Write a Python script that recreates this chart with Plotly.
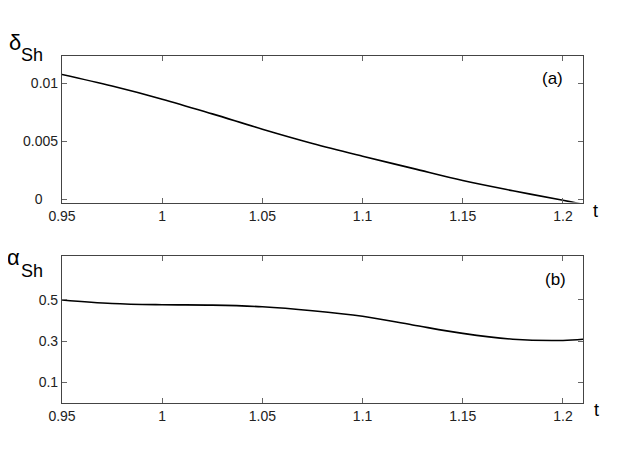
import plotly.graph_objects as go
from plotly.subplots import make_subplots

# painel (a): delta_Sh(t)
t_a = [0.95, 0.975, 1.0, 1.025, 1.05, 1.075, 1.1, 1.125, 1.15, 1.175, 1.2, 1.21]
delta_sh = [0.01075, 0.00975, 0.00862, 0.00735, 0.00603, 0.00480, 0.00370,
            0.00265, 0.00160, 0.00072, -0.00010, -0.00045]

# painel (b): alpha_Sh(t)
t_b = [0.95, 0.975, 1.0, 1.025, 1.05, 1.075, 1.1, 1.125, 1.15, 1.175, 1.2, 1.21]
alpha_sh = [0.499, 0.482, 0.476, 0.474, 0.466, 0.447, 0.420, 0.378, 0.337,
            0.309, 0.303, 0.309]

x_ticks = [0.95, 1.0, 1.05, 1.1, 1.15, 1.2]
x_labels = ["0.95", "1", "1.05", "1.1", "1.15", "1.2"]
ya_ticks = [0, 0.005, 0.01]
ya_labels = ["0\u00a0\u00a0\u00a0\u00a0", "0.005", "0.01"]
yb_ticks = [0.1, 0.3, 0.5]
yb_labels = ["0.1", "0.3", "0.5"]

fig = make_subplots(rows=2, cols=1, vertical_spacing=0.155)

fig.add_trace(go.Scatter(x=t_a, y=delta_sh, mode="lines", line_shape="spline",
                         line=dict(color="black", width=1.6)), row=1, col=1)
fig.add_trace(go.Scatter(x=t_b, y=alpha_sh, mode="lines", line_shape="spline",
                         line=dict(color="black", width=1.6)), row=2, col=1)

eixo = dict(showline=True, linecolor="#444", linewidth=1.2, mirror="allticks",
            ticks="inside", ticklen=5, tickcolor="#666", showgrid=False,
            zeroline=False, tickfont=dict(size=14, color="#222"))

fig.update_xaxes(range=[0.95, 1.21], tickvals=x_ticks, ticktext=x_labels, **eixo)
fig.update_yaxes(range=[-0.0003, 0.01234], tickvals=ya_ticks, ticktext=ya_labels,
                 ticklabelstandoff=0, row=1, col=1, **eixo)
fig.update_yaxes(range=[0, 0.71], tickvals=yb_ticks, ticktext=yb_labels,
                 ticklabelstandoff=0, row=2, col=1, **eixo)

fonte = dict(family="Liberation Sans, Arial, sans-serif", color="black")

# rótulos dos eixos e dos painéis (texto, x, y, tamanho)
notas = [
    ("δ", -0.0893, 1.039, 22),
    ("Sh", -0.0576, 1.003, 18),
    ("α", -0.0931, 0.418, 22),
    ("Sh", -0.0576, 0.3816, 18),
    ("t", 1.024, 0.553, 18),
    ("t", 1.026, -0.020, 18),
    ("(a)", 0.9415, 0.935, 17),
    ("(b)", 0.948, 0.3545, 17),
]
for texto, x, y, tam in notas:
    fig.add_annotation(text=texto, xref="paper", yref="paper", x=x, y=y,
                       xanchor="center", yanchor="middle", showarrow=False,
                       font=dict(size=tam, **fonte))

fig.update_layout(width=627, height=463, showlegend=False,
                  margin=dict(l=54, r=52, t=48, b=68),
                  plot_bgcolor="white", paper_bgcolor="white",
                  font=fonte)

fig.write_html("out.html")
